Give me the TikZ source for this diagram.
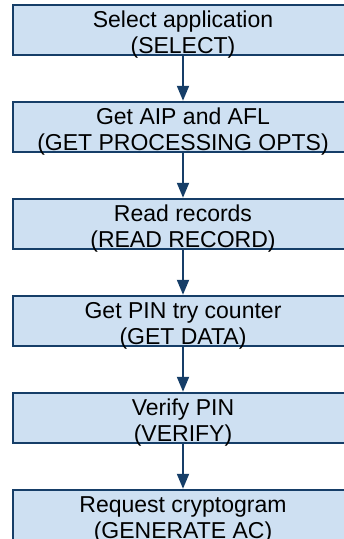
\documentclass[tikz,border=0pt]{standalone}
\usepackage{fontspec}
\setmainfont{Liberation Sans}
\usepackage{tikz}
\usetikzlibrary{positioning,arrows.meta}
\usepackage{xcolor}
\definecolor{boxfill}{RGB}{206,224,242}
\definecolor{boxedge}{RGB}{22,62,104}

\begin{document}
\begin{tikzpicture}[
  x=1pt, y=1pt,
  stepbox/.style={rectangle,draw=boxedge,fill=boxfill,line width=2.5pt,
    minimum width=340pt,minimum height=50pt,inner sep=0pt,align=center,
    text height=48pt,text depth=2pt,
    font=\fontsize{23}{26}\selectfont},
  flow/.style={-{Triangle[length=15pt,width=12pt]},draw=boxedge,line width=2pt}
]
\def\vsep{97}
\useasboundingbox (0,0) rectangle (344,-539);

% Steps of the transaction
\foreach \i/\txt in {1/{Select application\\(SELECT)},
                     2/{Get AIP and AFL\\(GET PROCESSING OPTS)},
                     3/{Read records\\(READ RECORD)},
                     4/{Get PIN try counter\\(GET DATA)},
                     5/{Verify PIN\\(VERIFY)},
                     6/{Request cryptogram\\(GENERATE AC)}}{
  \node[stepbox] (S\i) at (183,{-30-(\i-1)*\vsep}) {\txt};
}

% Step -> next step
\foreach \i in {1,...,5}{
  \pgfmathtruncatemacro{\j}{\i+1}
  \draw[flow] (S\i) -- (S\j);
}
\end{tikzpicture}
\end{document}
